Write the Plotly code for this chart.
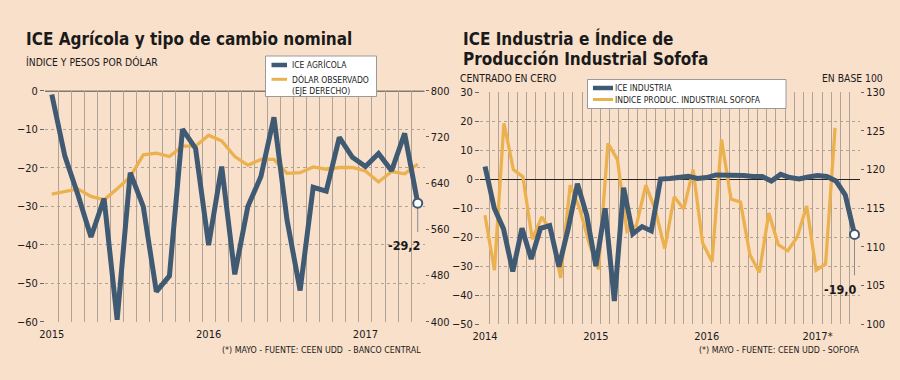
import plotly.graph_objects as go

# ---------------- data ----------------
# Left chart: monthly, Jan 2015 .. May 2017
ice_agricola = [-1.0, -17.0, -27.0, -38.0, -28.0, -59.5, -21.3, -30.1, -52.2, -48.1,
                -10.0, -15.0, -40.1, -19.7, -47.7, -30.1, -22.3, -6.9, -33.6, -51.9,
                -25.1, -26.1, -12.1, -17.3, -19.7, -16.3, -20.8, -11.1, -29.2]
dolar_observado = [621, 625, 630, 617, 611, 630, 651, 689, 692, 686,
                   704, 704, 723, 713, 686, 671, 681, 681, 657, 658,
                   668, 664, 667, 667, 661, 642, 660, 656, 673]
agri_year_pos = [0, 12, 24]
agri_year_labels = ["2015", "2016", "2017"]
agri_left_ticks = [0, -10, -20, -30, -40, -50, -60]
agri_right_ticks = [800, 720, 640, 560, 480, 400]

# Right chart: monthly, Jan 2014 .. May 2017
ice_industria = [4.4, -10.0, -17.1, -31.8, -16.9, -27.5, -16.9, -16.0, -30.1, -17.0,
                 -1.5, -12.3, -29.9, -10.0, -42.0, -2.9, -18.8, -16.3, -17.8, 0.1,
                 0.3, 0.6, 1.0, 0.3, 0.6, 1.5, 1.5, 1.4, 1.3, 1.0,
                 1.0, -0.6, 1.7, 0.6, 0.1, 0.8, 1.3, 1.0, -0.6, -5.4, -19.0]
sofofa = [114.1, 107.0, 126.0, 120.0, 119.1, 111.0, 113.9, 112.0, 106.0, 118.0,
          115.0, 110.5, 107.1, 123.4, 121.3, 112.0, 112.8, 118.0, 114.8, 109.8,
          116.5, 114.9, 120.0, 110.5, 108.1, 123.9, 116.2, 115.8, 109.0, 106.7,
          114.4, 110.3, 109.5, 111.3, 115.3, 107.0, 107.8, 125.4]
ind_year_pos = [0, 12, 24, 36]
ind_year_labels = ["2014", "2015", "2016", "2017*"]
ind_left_ticks = [30, 20, 10, 0, -10, -20, -30, -40, -50]
ind_right_ticks = [130, 125, 120, 115, 110, 105, 100]

agri_idx = list(range(len(ice_agricola)))
ind_idx = list(range(len(ice_industria)))
sof_idx = list(range(len(sofofa)))

name_agri = "ICE AGRÍCOLA"
name_dolar = "DÓLAR OBSERVADO<br>(EJE DERECHO)"
name_ind = "ICE INDUSTRIA"
name_sof = "INDICE PRODUC. INDUSTRIAL SOFOFA"

# ---------------- style ----------------
BG = "#f9e0cb"
BLUE = "#3f5a72"
ORANGE = "#ecb14f"
GRID = "#b0a294"
TXT = "#1a1a1a"
FONT = "DejaVu Sans Condensed, DejaVu Sans, sans-serif"
W, H = 900, 380
BLUE_W, ORANGE_W = 5, 3.3

fig = go.Figure()

# left chart: orange on base (right) axis, blue on overlay (left) axis -> blue on top
fig.add_trace(go.Scatter(x=agri_idx, y=dolar_observado, xaxis="x", yaxis="y", mode="lines",
                         line=dict(color=ORANGE, width=ORANGE_W), name=name_dolar,
                         showlegend=False, hoverinfo="skip"))
fig.add_trace(go.Scatter(x=agri_idx, y=ice_agricola, xaxis="x", yaxis="y2", mode="lines",
                         line=dict(color=BLUE, width=BLUE_W), name=name_agri,
                         showlegend=False, hoverinfo="skip"))
fig.add_trace(go.Scatter(x=[agri_idx[-1]], y=[ice_agricola[-1]], xaxis="x", yaxis="y2",
                         mode="markers", showlegend=False, hoverinfo="skip",
                         marker=dict(color="white", size=9, line=dict(color=BLUE, width=2))))

# right chart: orange on base axes (x2/y3), blue on overlay axes (x3/y4)
fig.add_trace(go.Scatter(x=sof_idx, y=sofofa, xaxis="x2", yaxis="y3", mode="lines",
                         line=dict(color=ORANGE, width=ORANGE_W), name=name_sof,
                         showlegend=False, hoverinfo="skip"))
fig.add_trace(go.Scatter(x=ind_idx, y=ice_industria, xaxis="x3", yaxis="y4", mode="lines",
                         line=dict(color=BLUE, width=BLUE_W), name=name_ind,
                         showlegend=False, hoverinfo="skip"))
fig.add_trace(go.Scatter(x=[ind_idx[-1]], y=[ice_industria[-1]], xaxis="x3", yaxis="y4",
                         mode="markers", showlegend=False, hoverinfo="skip",
                         marker=dict(color="white", size=9, line=dict(color=BLUE, width=2))))

minor_grid = dict(tickmode="linear", tick0=0.5, dtick=1, showgrid=True,
                  gridcolor=GRID, gridwidth=1, ticks="")
tickfont = dict(family=FONT, size=11, color=TXT)

fig.update_layout(
    width=W, height=H, autosize=False,
    margin=dict(l=0, r=0, t=0, b=0, autoexpand=False),
    paper_bgcolor=BG, plot_bgcolor=BG,
    font=dict(family=FONT, color=TXT),
    showlegend=False,
    xaxis=dict(domain=[0.05, 0.4717], range=[-0.52, 28.52], anchor="y", automargin=False,
               tickmode="array", tickvals=agri_year_pos, ticktext=agri_year_labels,
               showgrid=False, zeroline=False, showline=False, ticks="",
               ticklabelstandoff=4, tickfont=tickfont, minor=minor_grid),
    yaxis=dict(domain=[0.1534, 0.7613], range=[400, 800], anchor="x", side="right",
               automargin=False,
               tickmode="array", tickvals=agri_right_ticks, showgrid=False, zeroline=False,
               ticks="outside", ticklen=3, tickcolor="#666", tickfont=tickfont),
    yaxis2=dict(range=[-60, 0], overlaying="y", anchor="x", side="left", automargin=False,
                tickmode="array", tickvals=agri_left_ticks, showgrid=True, gridcolor=GRID,
                griddash="3px,3px", gridwidth=1, zeroline=False,
                ticks="outside", ticklen=4, tickcolor="#666", tickfont=tickfont),
    xaxis2=dict(domain=[0.5333, 0.9556], range=[-0.53, 39.64], anchor="y3", visible=False,
                automargin=False),
    yaxis3=dict(domain=[0.1466, 0.7571], range=[100, 130], anchor="x2", side="right",
                automargin=False,
                tickmode="array", tickvals=ind_right_ticks, showgrid=False, zeroline=False,
                ticks="outside", ticklen=3, tickcolor="#666", tickfont=tickfont),
    xaxis3=dict(range=[-0.55, 40.6], overlaying="x2", anchor="y3", automargin=False,
                tickmode="array", tickvals=ind_year_pos, ticktext=ind_year_labels,
                showgrid=False, zeroline=False, showline=False, ticks="",
                ticklabelstandoff=4, tickfont=tickfont, minor=minor_grid),
    yaxis4=dict(range=[-50, 30], overlaying="y3", anchor="x2", side="left", automargin=False,
                tickmode="array", tickvals=ind_left_ticks, showgrid=True, gridcolor=GRID,
                griddash="3px,3px", gridwidth=1, zeroline=True, zerolinecolor="#222",
                zerolinewidth=1.2, ticks="outside", ticklen=4, tickcolor="#666",
                tickfont=tickfont),
)

shapes = []
# zero line on top of the left chart
shapes.append(dict(type="line", xref="x domain", x0=0, x1=1, yref="y2", y0=0, y1=0,
                   line=dict(color="#111", width=1.5), layer="below"))
# leader lines from last points down to the value labels
shapes.append(dict(type="line", xref="x", x0=agri_idx[-1], x1=agri_idx[-1], yref="y2",
                   ysizemode="pixel", yanchor=ice_agricola[-1], y0=-5, y1=-29,
                   line=dict(color="#8a8a8a", width=1), layer="below"))
shapes.append(dict(type="line", xref="x3", x0=ind_idx[-1], x1=ind_idx[-1], yref="y4",
                   ysizemode="pixel", yanchor=ice_industria[-1], y0=-5, y1=-41,
                   line=dict(color="#8a8a8a", width=1), layer="below"))


def px_rect(x0, y0, x1, y1):
    return dict(type="rect", xref="paper", yref="paper", x0=x0 / W, x1=x1 / W,
                y0=1 - y1 / H, y1=1 - y0 / H, fillcolor="white",
                line=dict(color="#9a9a9a", width=1), layer="above")


def px_line(x0, x1, y, color, width):
    return dict(type="line", xref="paper", yref="paper", x0=x0 / W, x1=x1 / W,
                y0=1 - y / H, y1=1 - y / H, line=dict(color=color, width=width), layer="above")


# legend boxes (drawn by hand to match the compact reference legends)
shapes.append(px_rect(265.5, 56, 376.5, 96.5))
shapes.append(px_line(271.5, 287, 65, BLUE, 4.5))
shapes.append(px_line(271.5, 287, 79.3, ORANGE, 3))
shapes.append(px_rect(587.5, 79.5, 786, 108.5))
shapes.append(px_line(593, 613, 88, BLUE, 4.5))
shapes.append(px_line(593, 613, 99.5, ORANGE, 3))
fig.update_layout(shapes=shapes)


def fmt(v):
    return f"{v:.1f}".replace(".", ",")


ann = []
ann.append(dict(x=agri_idx[-1], y=ice_agricola[-1], xref="x", yref="y2", showarrow=False,
                text=f"<b>{fmt(ice_agricola[-1])}</b>", xanchor="right", yanchor="middle",
                xshift=4, yshift=-42, font=dict(family=FONT, size=12.5, color=TXT)))
ann.append(dict(x=ind_idx[-1], y=ice_industria[-1], xref="x3", yref="y4", showarrow=False,
                text=f"<b>{fmt(ice_industria[-1])}</b>", xanchor="right", yanchor="middle",
                xshift=4, yshift=-55, font=dict(family=FONT, size=12.5, color=TXT)))


def paper(text, x, y, size, anchor="left", bold=False):
    t = f"<b>{text}</b>" if bold else text
    return dict(x=x / W, y=1 - y / H, xref="paper", yref="paper", showarrow=False,
                text=t, xanchor=anchor, yanchor="middle", align="left",
                font=dict(family=FONT, size=size, color=TXT))


ann.append(paper("ICE Agrícola y tipo de cambio nominal", 24, 39, 17, bold=True))
ann.append(paper("ÍNDICE Y PESOS POR DÓLAR", 24, 61.5, 10.3))
ann.append(paper("ICE Industria e Índice de", 461, 39, 17, bold=True))
ann.append(paper("Producción Industrial Sofofa", 461, 59, 17, bold=True))
ann.append(paper("CENTRADO EN CERO", 458, 78, 10.3))
ann.append(paper("EN BASE 100", 885, 78, 10.3, anchor="right"))
ann.append(paper("(*) MAYO - FUENTE: CEEN UDD  - BANCO CENTRAL", 423, 350, 8.8, anchor="right"))
ann.append(paper("(*) MAYO - FUENTE: CEEN UDD - SOFOFA", 862, 350, 8.8, anchor="right"))
# legend texts
ann.append(paper(name_agri, 290, 65, 8.5))
ann.append(paper(name_dolar, 290, 85, 8.5))
ann.append(paper(name_ind, 613, 88, 8.5))
ann.append(paper(name_sof, 613, 99.5, 8.5))

fig.update_layout(annotations=ann)

fig.write_html("out.html", config={"displayModeBar": False},
               post_script="document.body.style.margin='0';document.body.style.overflow='hidden';")
